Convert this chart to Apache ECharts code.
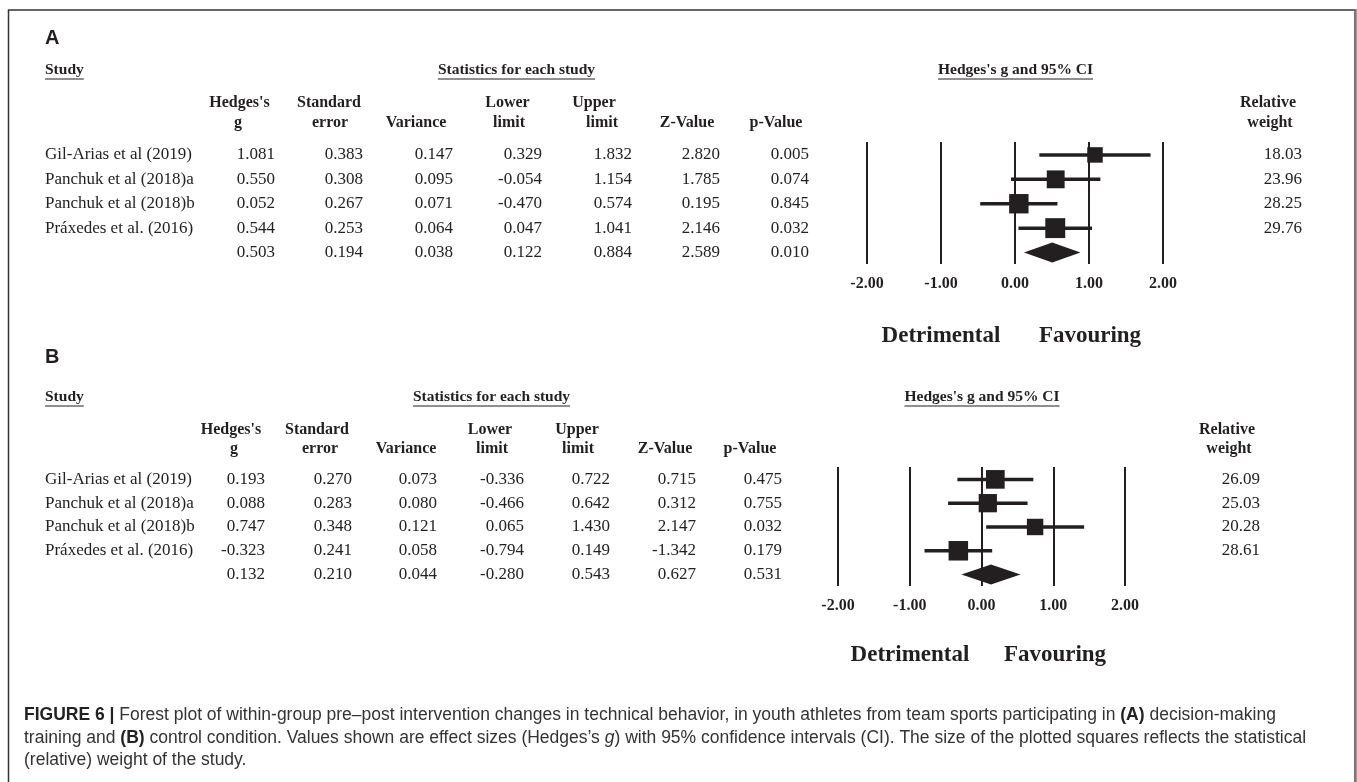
<!DOCTYPE html>
<html><head><meta charset="utf-8">
<script src="https://cdn.jsdelivr.net/npm/echarts@6/dist/echarts.min.js"></script>
<style>html,body{margin:0;padding:0;background:#fff}#c{width:1357px;height:782px}</style>
</head><body><div id="c"></div>
<script>
// ---------------- DATA ----------------
const studies = ["Gil-Arias et al (2019)", "Panchuk et al (2018)a", "Panchuk et al (2018)b", "Práxedes et al. (2016)", ""];
const tickValues = [-2, -1, 0, 1, 2];
const colHeaders = [["Hedges's", "g"], ["Standard", "error"], ["", "Variance"], ["Lower", "limit"], ["Upper", "limit"], ["", "Z-Value"], ["", "p-Value"]];
const weightHeader = ["Relative", "weight"];
// Panel A (decision-making training)
const gA   = [1.081, 0.550, 0.052, 0.544, 0.503];
const seA  = [0.383, 0.308, 0.267, 0.253, 0.194];
const varA = [0.147, 0.095, 0.071, 0.064, 0.038];
const lowA = [0.329, -0.054, -0.470, 0.047, 0.122];
const upA  = [1.832, 1.154, 0.574, 1.041, 0.884];
const zA   = [2.820, 1.785, 0.195, 2.146, 2.589];
const pA   = [0.005, 0.074, 0.845, 0.032, 0.010];
const wA   = [18.03, 23.96, 28.25, 29.76];
// Panel B (control condition)
const gB   = [0.193, 0.088, 0.747, -0.323, 0.132];
const seB  = [0.270, 0.283, 0.348, 0.241, 0.210];
const varB = [0.073, 0.080, 0.121, 0.058, 0.044];
const lowB = [-0.336, -0.466, 0.065, -0.794, -0.280];
const upB  = [0.722, 0.642, 1.430, 0.149, 0.543];
const zB   = [0.715, 0.312, 2.147, -1.342, 0.627];
const pB   = [0.475, 0.755, 0.032, 0.179, 0.531];
const wB   = [26.09, 25.03, 20.28, 28.61];

// ---------------- STYLE / LAYOUT ----------------
const INK = '#231f20';
const SERIF = '"Liberation Serif", "Times New Roman", serif';
const SANS = '"Liberation Sans", Arial, Helvetica, sans-serif';
const SQ_K = 3.65;    // square side per sqrt(weight)
const DIAMOND_H = 20;
const CI_W = 3.5;

const panels = [
  { letter: 'A', letterY: 38, titleY: 70, ulY: 79, statsX: 516.5, ciX: 1015.5,
    h1Y: 103, h2Y: 123,
    h1X: [239.5, 329, 0, 507.5, 594, 0, 0], h2X: [238, 330, 416, 509, 602, 687, 776], wHX: [1268, 1270],
    colRight: [275, 363, 453, 542, 632, 720, 809], wRight: 1302,
    grid: { left: 867, top: 142, width: 296, height: 122 }, yMin: -0.53, yMax: 4.47,
    detY: 336, detX: 941, favX: 1090,
    data: [gA, seA, varA, lowA, upA, zA, pA], g: gA, lo: lowA, up: upA, w: wA },
  { letter: 'B', letterY: 357, titleY: 397, ulY: 406, statsX: 491.5, ciX: 982,
    h1Y: 430, h2Y: 449,
    h1X: [231, 317, 0, 490, 577, 0, 0], h2X: [234, 320, 406, 492, 578, 665, 750], wHX: [1227, 1229],
    colRight: [265, 352, 437, 524, 610, 696, 782], wRight: 1260,
    grid: { left: 838, top: 467, width: 287, height: 119 }, yMin: -0.52, yMax: 4.48,
    detY: 655, detX: 910, favX: 1055,
    data: [gB, seB, varB, lowB, upB, zB, pB], g: gB, lo: lowB, up: upB, w: wB }
];

const mctx = document.createElement('canvas').getContext('2d');
function textW(str, font) { mctx.font = font; return mctx.measureText(str).width; }

function txt(text, x, y, align, size, weight, family, extra) {
  return {
    type: 'text', silent: true,
    style: Object.assign({ text: text, x: x, y: y, align: align, textAlign: align,
      verticalAlign: 'middle', textVerticalAlign: 'middle',
      fontSize: size, fontWeight: weight, fontFamily: family, fill: INK }, extra || {})
  };
}
function hline(x1, x2, y, w, color) {
  return { type: 'line', silent: true, shape: { x1: x1, y1: y, x2: x2, y2: y }, style: { stroke: color || INK, lineWidth: w || 1.2 } };
}

const graphics = [];
// frame
graphics.push({ type: 'rect', silent: true, shape: { x: 8.5, y: 10, width: 1346.5, height: 800 }, style: { fill: 'none', stroke: '#333', lineWidth: 1.5 } });
graphics.push({ type: 'line', silent: true, shape: { x1: 1355.5, y1: 9, x2: 1355.5, y2: 782 }, style: { stroke: '#7a7a7a', lineWidth: 2.5 } });

panels.forEach(function (P) {
  graphics.push(txt(P.letter, 45, P.letterY, 'left', 20, 'bold', SANS));
  const tf = 'bold 15.5px ' + SERIF;
  graphics.push(txt('Study', 45, P.titleY, 'left', 15.5, 'bold', SERIF));
  const sw = textW('Study', tf);
  graphics.push(hline(45, 45 + sw, P.ulY));
  const st = 'Statistics for each study';
  graphics.push(txt(st, P.statsX, P.titleY, 'center', 15.5, 'bold', SERIF));
  const stw = textW(st, tf);
  graphics.push(hline(P.statsX - stw / 2, P.statsX + stw / 2, P.ulY));
  const ct = "Hedges's g and 95% CI";
  graphics.push(txt(ct, P.ciX, P.titleY, 'center', 15.5, 'bold', SERIF));
  const ctw = textW(ct, tf);
  graphics.push(hline(P.ciX - ctw / 2, P.ciX + ctw / 2, P.ulY));
  colHeaders.forEach(function (h, k) {
    if (h[0]) graphics.push(txt(h[0], P.h1X[k], P.h1Y, 'center', 16, 'bold', SERIF));
    graphics.push(txt(h[1], P.h2X[k], P.h2Y, 'center', 16, 'bold', SERIF));
  });
  graphics.push(txt(weightHeader[0], P.wHX[0], P.h1Y, 'center', 16, 'bold', SERIF));
  graphics.push(txt(weightHeader[1], P.wHX[1], P.h2Y, 'center', 16, 'bold', SERIF));
  graphics.push(txt('Detrimental', P.detX, P.detY, 'center', 23, 'bold', SERIF));
  graphics.push(txt('Favouring', P.favX, P.detY, 'center', 23, 'bold', SERIF));
});

// caption
const capLines = [
  "{b|FIGURE 6 |} Forest plot of within-group pre–post intervention changes in technical behavior, in youth athletes from team sports participating in {b|(A)} decision-making",
  "training and {b|(B)} control condition. Values shown are effect sizes (Hedges’s {i|g}) with 95% confidence intervals (CI). The size of the plotted squares reflects the statistical",
  "(relative) weight of the study."
];
const CS = 17.5, CLH = 22.5;
graphics.push({
  type: 'text', silent: true,
  style: {
    text: capLines.join('\n'), x: 24, y: 704, align: 'left', textAlign: 'left', verticalAlign: 'top', textVerticalAlign: 'top',
    fontSize: CS, fontFamily: SANS, fill: '#333', lineHeight: CLH,
    rich: {
      b: { fontWeight: 'bold', fontSize: CS, fontFamily: SANS, fill: '#222', lineHeight: CLH },
      i: { fontStyle: 'italic', fontSize: CS, fontFamily: SANS, fill: '#333', lineHeight: CLH }
    }
  }
});

// ---------------- CHART ----------------
const grids = [], xAxes = [], yAxes = [], series = [];
panels.forEach(function (P, pi) {
  grids.push(Object.assign({ outerBoundsMode: 'none', containLabel: false }, P.grid));
  xAxes.push({
    gridIndex: pi, type: 'value', min: tickValues[0], max: tickValues[tickValues.length - 1], interval: 1,
    axisLine: { show: false }, axisTick: { show: false },
    splitLine: { show: true, lineStyle: { color: INK, width: 2 } },
    axisLabel: { margin: 12, color: INK, fontSize: 16, fontWeight: 'bold', fontFamily: SERIF,
      formatter: function (v) { return v.toFixed(2); } }
  });
  yAxes.push({ gridIndex: pi, type: 'value', inverse: true, min: P.yMin, max: P.yMax, show: false,
    splitLine: { show: false } });
  const rows = studies.map(function (_, i) { return i; });
  series.push({
    type: 'custom', xAxisIndex: pi, yAxisIndex: pi, clip: false, silent: true,
    data: rows.map(function (i) { return [P.lo[i], P.up[i], i]; }),
    encode: { x: [0, 1], y: 2 },
    renderItem: function (params, api) {
      const i = api.value(2);
      const lo = api.coord([api.value(0), i]);
      const up = api.coord([api.value(1), i]);
      const c = api.coord([P.g[i], i]);
      const y = c[1];
      if (i < P.w.length) {
        const s = SQ_K * Math.sqrt(P.w[i]);
        return { type: 'group', children: [
          { type: 'line', shape: { x1: lo[0], y1: y, x2: up[0], y2: y }, style: { stroke: INK, lineWidth: CI_W } },
          { type: 'rect', shape: { x: c[0] - s / 2, y: y - s / 2, width: s, height: s }, style: { fill: INK } }
        ] };
      }
      return { type: 'polygon', shape: { points: [[lo[0], y], [c[0], y - DIAMOND_H / 2], [up[0], y], [c[0], y + DIAMOND_H / 2]] }, style: { fill: INK } };
    }
  });
  series.push({
    type: 'custom', xAxisIndex: pi, yAxisIndex: pi, clip: false, silent: true,
    data: rows.map(function (i) { return [0, i]; }),
    encode: { x: 0, y: 1 },
    renderItem: function (params, api) {
      const i = api.value(1);
      const y = api.coord([0, i])[1];
      const ch = [];
      if (studies[i]) ch.push(txt(studies[i], 45, y, 'left', 17, 'normal', SERIF, { fill: '#222' }));
      P.data.forEach(function (arr, k) {
        ch.push(txt(arr[i].toFixed(3), P.colRight[k], y, 'right', 17, 'normal', SERIF, { fill: '#222' }));
      });
      if (i < P.w.length) ch.push(txt(P.w[i].toFixed(2), P.wRight, y, 'right', 17, 'normal', SERIF, { fill: '#222' }));
      return { type: 'group', children: ch };
    }
  });
});

const chart = echarts.init(document.getElementById('c'), null, { renderer: 'canvas' });
chart.setOption({
  animation: false,
  backgroundColor: '#fff',
  grid: grids, xAxis: xAxes, yAxis: yAxes, series: series,
  graphic: { elements: graphics }
});
</script></body></html>
